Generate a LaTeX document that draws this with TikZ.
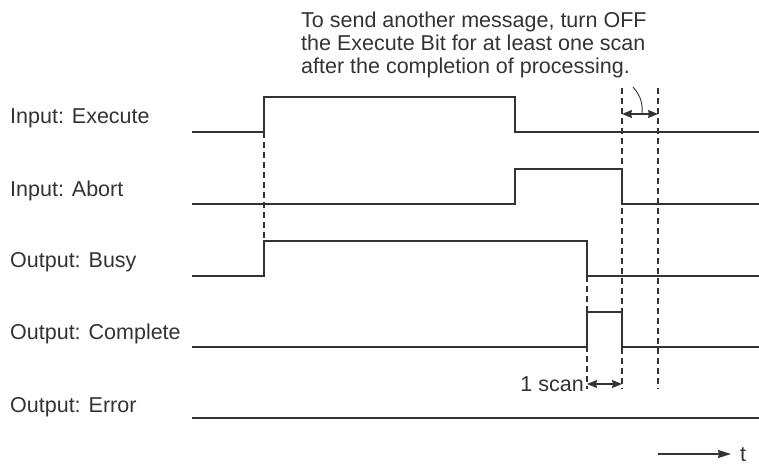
\documentclass[tikz,border=0pt]{standalone}
\usepackage{fontspec}
\setmainfont{Liberation Sans}
\usetikzlibrary{arrows.meta}
\definecolor{ink}{HTML}{333333}
\begin{document}
\begin{tikzpicture}[x=1pt,y=-1pt,
  lbl/.style={anchor=base west, inner sep=0pt, text=ink, font=\fontsize{21.5}{23.5}\selectfont},
  sig/.style={draw=ink, line width=1.4pt},
  guide/.style={draw=ink, line width=1.3pt, dash pattern=on 6pt off 4pt},
  dim/.style={draw=ink, line width=1.3pt, {Stealth[length=10pt,width=8pt,inset=1pt]}-{Stealth[length=10pt,width=8pt,inset=1pt]}},
  leader/.style={draw=ink, line width=0.9pt},
]
\useasboundingbox (0,0) rectangle (759,466);

% labels
\node[lbl] (lexe) at (10,123) {Input: Execute};
\node[lbl] (labo) at (10,196) {Input: Abort};
\node[lbl] (lbus) at (10,267) {Output: Busy};
\node[lbl] (lcom) at (10,339) {Output: Complete};
\node[lbl] (lerr) at (10,412) {Output: Error};

% note
\node[lbl] (n1) at (301,27) {To send another message, turn OFF};
\node[lbl] (n2) at (301,50) {the Execute Bit for at least one scan};
\node[lbl] (n3) at (301,73) {after the completion of processing.};

% waveforms
\draw[sig] (192,132) -- (264,132) -- (264,97) -- (515,97) -- (515,132) -- (759,132);
\draw[sig] (192,204) -- (515,204) -- (515,169) -- (622,169) -- (622,204) -- (759,204);
\draw[sig] (192,276) -- (264,276) -- (264,241) -- (587,241) -- (587,276) -- (759,276);
\draw[sig] (192,347) -- (587,347) -- (587,312) -- (622,312) -- (622,347) -- (759,347);
\draw[sig] (192,418) -- (759,418);

% guide coordinates
\coordinate (g1a) at (264,132);
\coordinate (g1b) at (264,241);
\coordinate (g2a) at (587,276);
\coordinate (g2b) at (587,389);
\coordinate (g3a) at (622,88);
\coordinate (g3b) at (622,389);
\coordinate (g4a) at (658,88);
\coordinate (g4b) at (658,389);
\draw[guide] (g1a) -- (g1b);
\draw[guide] (g2a) -- (g2b);
\draw[guide] (g3a) -- (g3b);
\draw[guide] (g4a) -- (g4b);

% dimension arrows
\coordinate (d1a) at (622,114);
\coordinate (d1b) at (658,114);
\draw[dim] (d1a) -- (d1b);
\coordinate (la) at (633,87);
\coordinate (lb) at (642,113);
\draw[leader] (la) .. controls (640,95) and (643,103) .. (lb);

\coordinate (d2a) at (587,384);
\coordinate (d2b) at (622,384);
\draw[dim] (d2a) -- (d2b);
\node[lbl, anchor=base east] (scan) at (584,391) {1 scan};

% time axis
\node[lbl] (t) at (740,461) {t};
\coordinate (ta) at (658,454);
\coordinate (tb) at (731,454);
\draw[draw=ink, line width=1.3pt, -{Stealth[length=13pt,width=8pt,inset=1pt]}] (ta) -- (tb);
\end{tikzpicture}
\end{document}
